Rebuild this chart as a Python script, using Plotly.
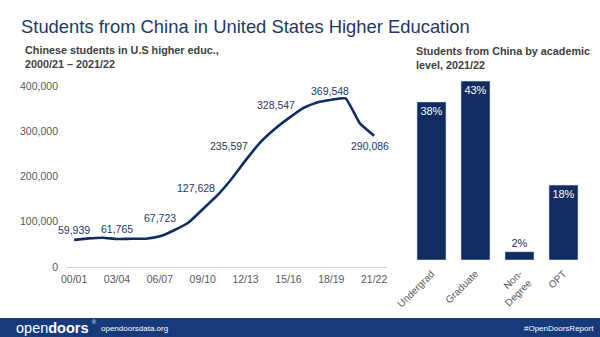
import plotly.graph_objects as go

# ---- data ----
years = ["00/01","01/02","02/03","03/04","04/05","05/06","06/07","07/08","08/09","09/10",
         "10/11","11/12","12/13","13/14","14/15","15/16","16/17","17/18","18/19","19/20",
         "20/21","21/22"]
students = [59939, 63211, 64757, 61765, 62523, 62582, 67723, 81127, 98235, 127628,
            157558, 194029, 235597, 274439, 304040, 328547, 350755, 363341, 369548, 372532,
            317299, 290086]
tick_years = ["00/01","03/04","06/07","09/10","12/13","15/16","18/19","21/22"]
label_idx = [0, 3, 6, 9, 12, 15, 18, 21]

levels = ["Undergrad", "Graduate", "Non-<br>Degree", "OPT"]
shares = [38, 43, 2, 18]

# ---- style ----
W, H = 600, 337
NAVY = "#0f2c63"
TXT = "#1f3864"
GRAY = "#595959"
FONT = "Liberation Sans, Arial, sans-serif"

def px(x):
    return x / W

def py(y):
    return 1 - y / H

# label offsets (px) relative to the data point
offsets = {0: (0, 10), 3: (0, 10), 6: (0, 18), 9: (-7, 21), 12: (-17, 14),
           15: (-12, 13), 18: (-1, 9), 21: (-4, -10)}

fig = go.Figure()

fig.add_trace(go.Scatter(
    x=list(range(len(years))), y=students, mode="lines",
    line=dict(color=NAVY, width=2.6, shape="spline", smoothing=0.4),
    hoverinfo="skip", showlegend=False, xaxis="x", yaxis="y"))

fig.add_trace(go.Bar(
    x=levels, y=shares, marker_color=NAVY, width=0.66,
    text=[f"{v}%" for v in shares],
    textposition=["inside", "inside", "outside", "inside"],
    insidetextanchor="end",
    insidetextfont=dict(color="white", size=11, family=FONT),
    outsidetextfont=dict(color=TXT, size=11, family=FONT),
    cliponaxis=False, showlegend=False, xaxis="x2", yaxis="y2"))

annotations = []
for i in label_idx:
    dx, dy = offsets[i]
    annotations.append(dict(
        x=i, y=students[i], xref="x", yref="y", text=f"{students[i]:,}",
        showarrow=False, xshift=dx, yshift=dy,
        font=dict(size=10.5, color=TXT, family=FONT)))

# titles
annotations.append(dict(x=px(19), y=py(26), xref="paper", yref="paper",
    text="Students from China in United States Higher Education", showarrow=False,
    xanchor="left", yanchor="middle", font=dict(size=18.4, color=TXT, family=FONT)))
annotations.append(dict(x=px(23), y=py(57), xref="paper", yref="paper",
    text="<b>Chinese students in U.S higher educ.,<br>2000/21 – 2021/22</b>", showarrow=False,
    xanchor="left", yanchor="middle", align="left",
    font=dict(size=10.8, color="#404040", family=FONT)))
annotations.append(dict(x=px(414), y=py(58), xref="paper", yref="paper",
    text="<b>Students from China by academic<br>level, 2021/22</b>", showarrow=False,
    xanchor="left", yanchor="middle", align="left",
    font=dict(size=10.8, color="#404040", family=FONT)))

# footer
annotations.append(dict(x=px(14), y=py(327.5), xref="paper", yref="paper",
    text="open<b>doors</b>", showarrow=False,
    xanchor="left", yanchor="middle", font=dict(size=14.5, color="white", family=FONT)))
annotations.append(dict(x=px(90), y=py(322), xref="paper", yref="paper",
    text="®", showarrow=False,
    xanchor="left", yanchor="middle", font=dict(size=5, color="white", family=FONT)))
annotations.append(dict(x=px(99), y=py(328), xref="paper", yref="paper",
    text="opendoorsdata.org", showarrow=False,
    xanchor="left", yanchor="middle", font=dict(size=8, color="white", family=FONT)))
annotations.append(dict(x=px(596), y=py(328), xref="paper", yref="paper",
    text="#OpenDoorsReport", showarrow=False,
    xanchor="right", yanchor="middle", font=dict(size=8, color="white", family=FONT)))

shapes = [dict(type="rect", xref="paper", yref="paper", x0=0, x1=1, y0=0, y1=py(318),
               fillcolor="#173b7a", line=dict(width=0), layer="below")]

fig.update_layout(
    width=W, height=H, margin=dict(l=0, r=0, t=0, b=0),
    paper_bgcolor="white", plot_bgcolor="rgba(0,0,0,0)",
    font=dict(family=FONT, color=GRAY),
    xaxis=dict(domain=[px(67), px(387)], range=[-0.5, 21.9], automargin=False,
               tickmode="array", tickvals=[years.index(t) for t in tick_years],
               ticktext=tick_years, showgrid=False, zeroline=False,
               showline=True, linecolor="#d0d0d0", linewidth=1, ticks="",
               ticklabelstandoff=2, tickfont=dict(size=10.5, color=GRAY)),
    yaxis=dict(domain=[py(267), py(86)], range=[0, 400000], automargin=False,
               tickvals=[0, 100000, 200000, 300000, 400000],
               ticktext=["0", "100,000", "200,000", "300,000", "400,000"],
               showgrid=False, zeroline=False, showline=False, ticks="",
               ticklabelstandoff=8, tickfont=dict(size=10.5, color=GRAY)),
    xaxis2=dict(domain=[px(409.5), px(585.5)], anchor="y2", range=[-0.5, 3.5],
                automargin=False, showgrid=False, zeroline=False, showline=False,
                ticks="", tickangle=-45, ticklabelstandoff=5,
                tickfont=dict(size=10, color=GRAY)),
    yaxis2=dict(domain=[py(260), py(52)], anchor="x2", range=[0, 50], automargin=False,
                showgrid=False, zeroline=False, showline=False, showticklabels=False),
    annotations=annotations, shapes=shapes,
)

fig.write_html("out.html")
